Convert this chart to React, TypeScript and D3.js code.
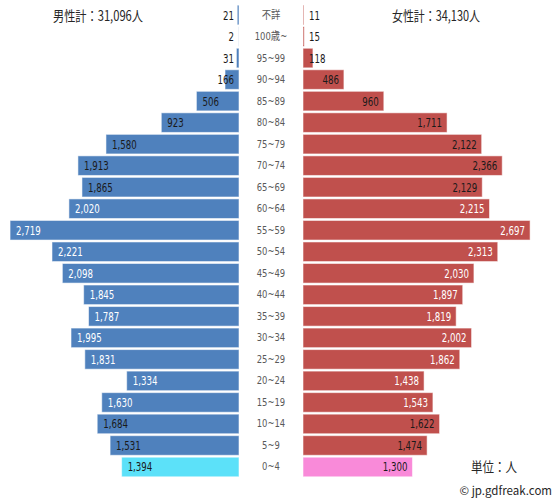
import React, { useEffect, useRef } from "react";
import * as d3 from "d3";

const ageLabels = ["不詳","100歳~","95~99","90~94","85~89","80~84","75~79","70~74","65~69","60~64","55~59","50~54","45~49","40~44","35~39","30~34","25~29","20~24","15~19","10~14","5~9","0~4"];
const maleValues = [21,2,31,166,506,923,1580,1913,1865,2020,2719,2221,2098,1845,1787,1995,1831,1334,1630,1684,1531,1394];
const femaleValues = [11,15,118,486,960,1711,2122,2366,2129,2215,2697,2313,2030,1897,1819,2002,1862,1438,1543,1622,1474,1300];
const labelOnDark = [false,false,false,false,false,false,false,false,false,true,true,true,true,true,true,true,true,true,true,false,false,false];
const maleTotal = "男性計：31,096人";
const femaleTotal = "女性計：34,130人";
const unitText = "単位：人";
const creditText = "© jp.gdfreak.com";

const W = 556, H = 501;

export default function App() {
  const ref = useRef<SVGSVGElement>(null);
  useEffect(() => {
    const svg = d3.select(ref.current);
    svg.selectAll("*").remove();
    const y = d3.scaleBand<string>().domain(ageLabels).range([4.24, 477.76]).paddingInner(0.09).paddingOuter(0.045);
    const xm = d3.scaleLinear().domain([0, 3000]).range([239, 239 - 252.6]);
    const xf = d3.scaleLinear().domain([0, 3000]).range([303, 303 + 252.6]);
    const n = ageLabels.length;
    const numFont = "'Liberation Sans Narrow','DejaVu Sans Condensed','Arial Narrow',sans-serif";
    const cjk = "'Noto Sans CJK JP','Noto Sans',sans-serif";
    const fmt = d3.format(",");
    const squeeze = 0.8;

    const g = svg.append("g");
    ageLabels.forEach((lab, i) => {
      const top = y(lab)!;
      const bh = y.bandwidth();
      const cy = top + bh / 2;
      const last = i === n - 1;
      const mv = maleValues[i], fv = femaleValues[i];
      g.append("rect").attr("x", xm(mv)).attr("y", top).attr("width", xm(0) - xm(mv)).attr("height", bh)
        .attr("fill", last ? "#5CE1F9" : "#4F81BD").attr("stroke", "rgba(255,255,255,0.55)").attr("stroke-width", 1);
      g.append("rect").attr("x", xf(0)).attr("y", top).attr("width", xf(fv) - xf(0)).attr("height", bh)
        .attr("fill", last ? "#F98AD9" : "#C0504D").attr("stroke", "rgba(255,255,255,0.55)").attr("stroke-width", 1);
      const col = labelOnDark[i] ? "#ffffff" : "#1a1a1a";
      const mt = g.append("text").text(fmt(mv)).attr("y", cy + 0.5).attr("dominant-baseline", "central")
        .attr("font-family", numFont).attr("font-size", 12).attr("fill", col);
      const mw = (mt.node() as SVGTextElement).getComputedTextLength() * squeeze;
      mt.attr("textLength", mw).attr("lengthAdjust", "spacingAndGlyphs");
      mt.attr("x", Math.min(xm(mv) + 6, 234 - mw));
      const ft = g.append("text").text(fmt(fv)).attr("y", cy + 0.5).attr("dominant-baseline", "central")
        .attr("font-family", numFont).attr("font-size", 12).attr("fill", col);
      const fw = (ft.node() as SVGTextElement).getComputedTextLength() * squeeze;
      ft.attr("textLength", fw).attr("lengthAdjust", "spacingAndGlyphs");
      ft.attr("x", Math.max(xf(fv) - 5 - fw, 309));
      const ct = g.append("text").text(lab).attr("y", cy).attr("dominant-baseline", "central")
        .attr("font-family", numFont + ",'Noto Sans CJK JP'").attr("font-size", 11).attr("fill", "#595959");
      const cw = (ct.node() as SVGTextElement).getComputedTextLength() * 0.85;
      ct.attr("textLength", cw).attr("lengthAdjust", "spacingAndGlyphs").attr("x", 271 - cw / 2);
    });

    const addText = (t: string, x: number, yy: number, len: number, size: number) => {
      svg.append("text").text(t).attr("x", x).attr("y", yy).attr("dominant-baseline", "central")
        .attr("font-family", cjk).attr("font-size", size).attr("fill", "#262626")
        .attr("textLength", len).attr("lengthAdjust", "spacingAndGlyphs");
    };
    addText(maleTotal, 53, 15, 90, 14);
    addText(femaleTotal, 392, 15, 88, 14);
    addText(unitText, 471, 466, 46, 13.5);
    svg.append("text").text(creditText).attr("x", 552).attr("y", 490).attr("text-anchor", "end")
      .attr("dominant-baseline", "central").attr("font-family", cjk).attr("font-size", 11.5).attr("fill", "#262626");
  }, []);
  return (
    <svg ref={ref} width={W} height={H} style={{ position: "absolute", left: 0, top: 0, background: "#fff" }} />
  );
}
